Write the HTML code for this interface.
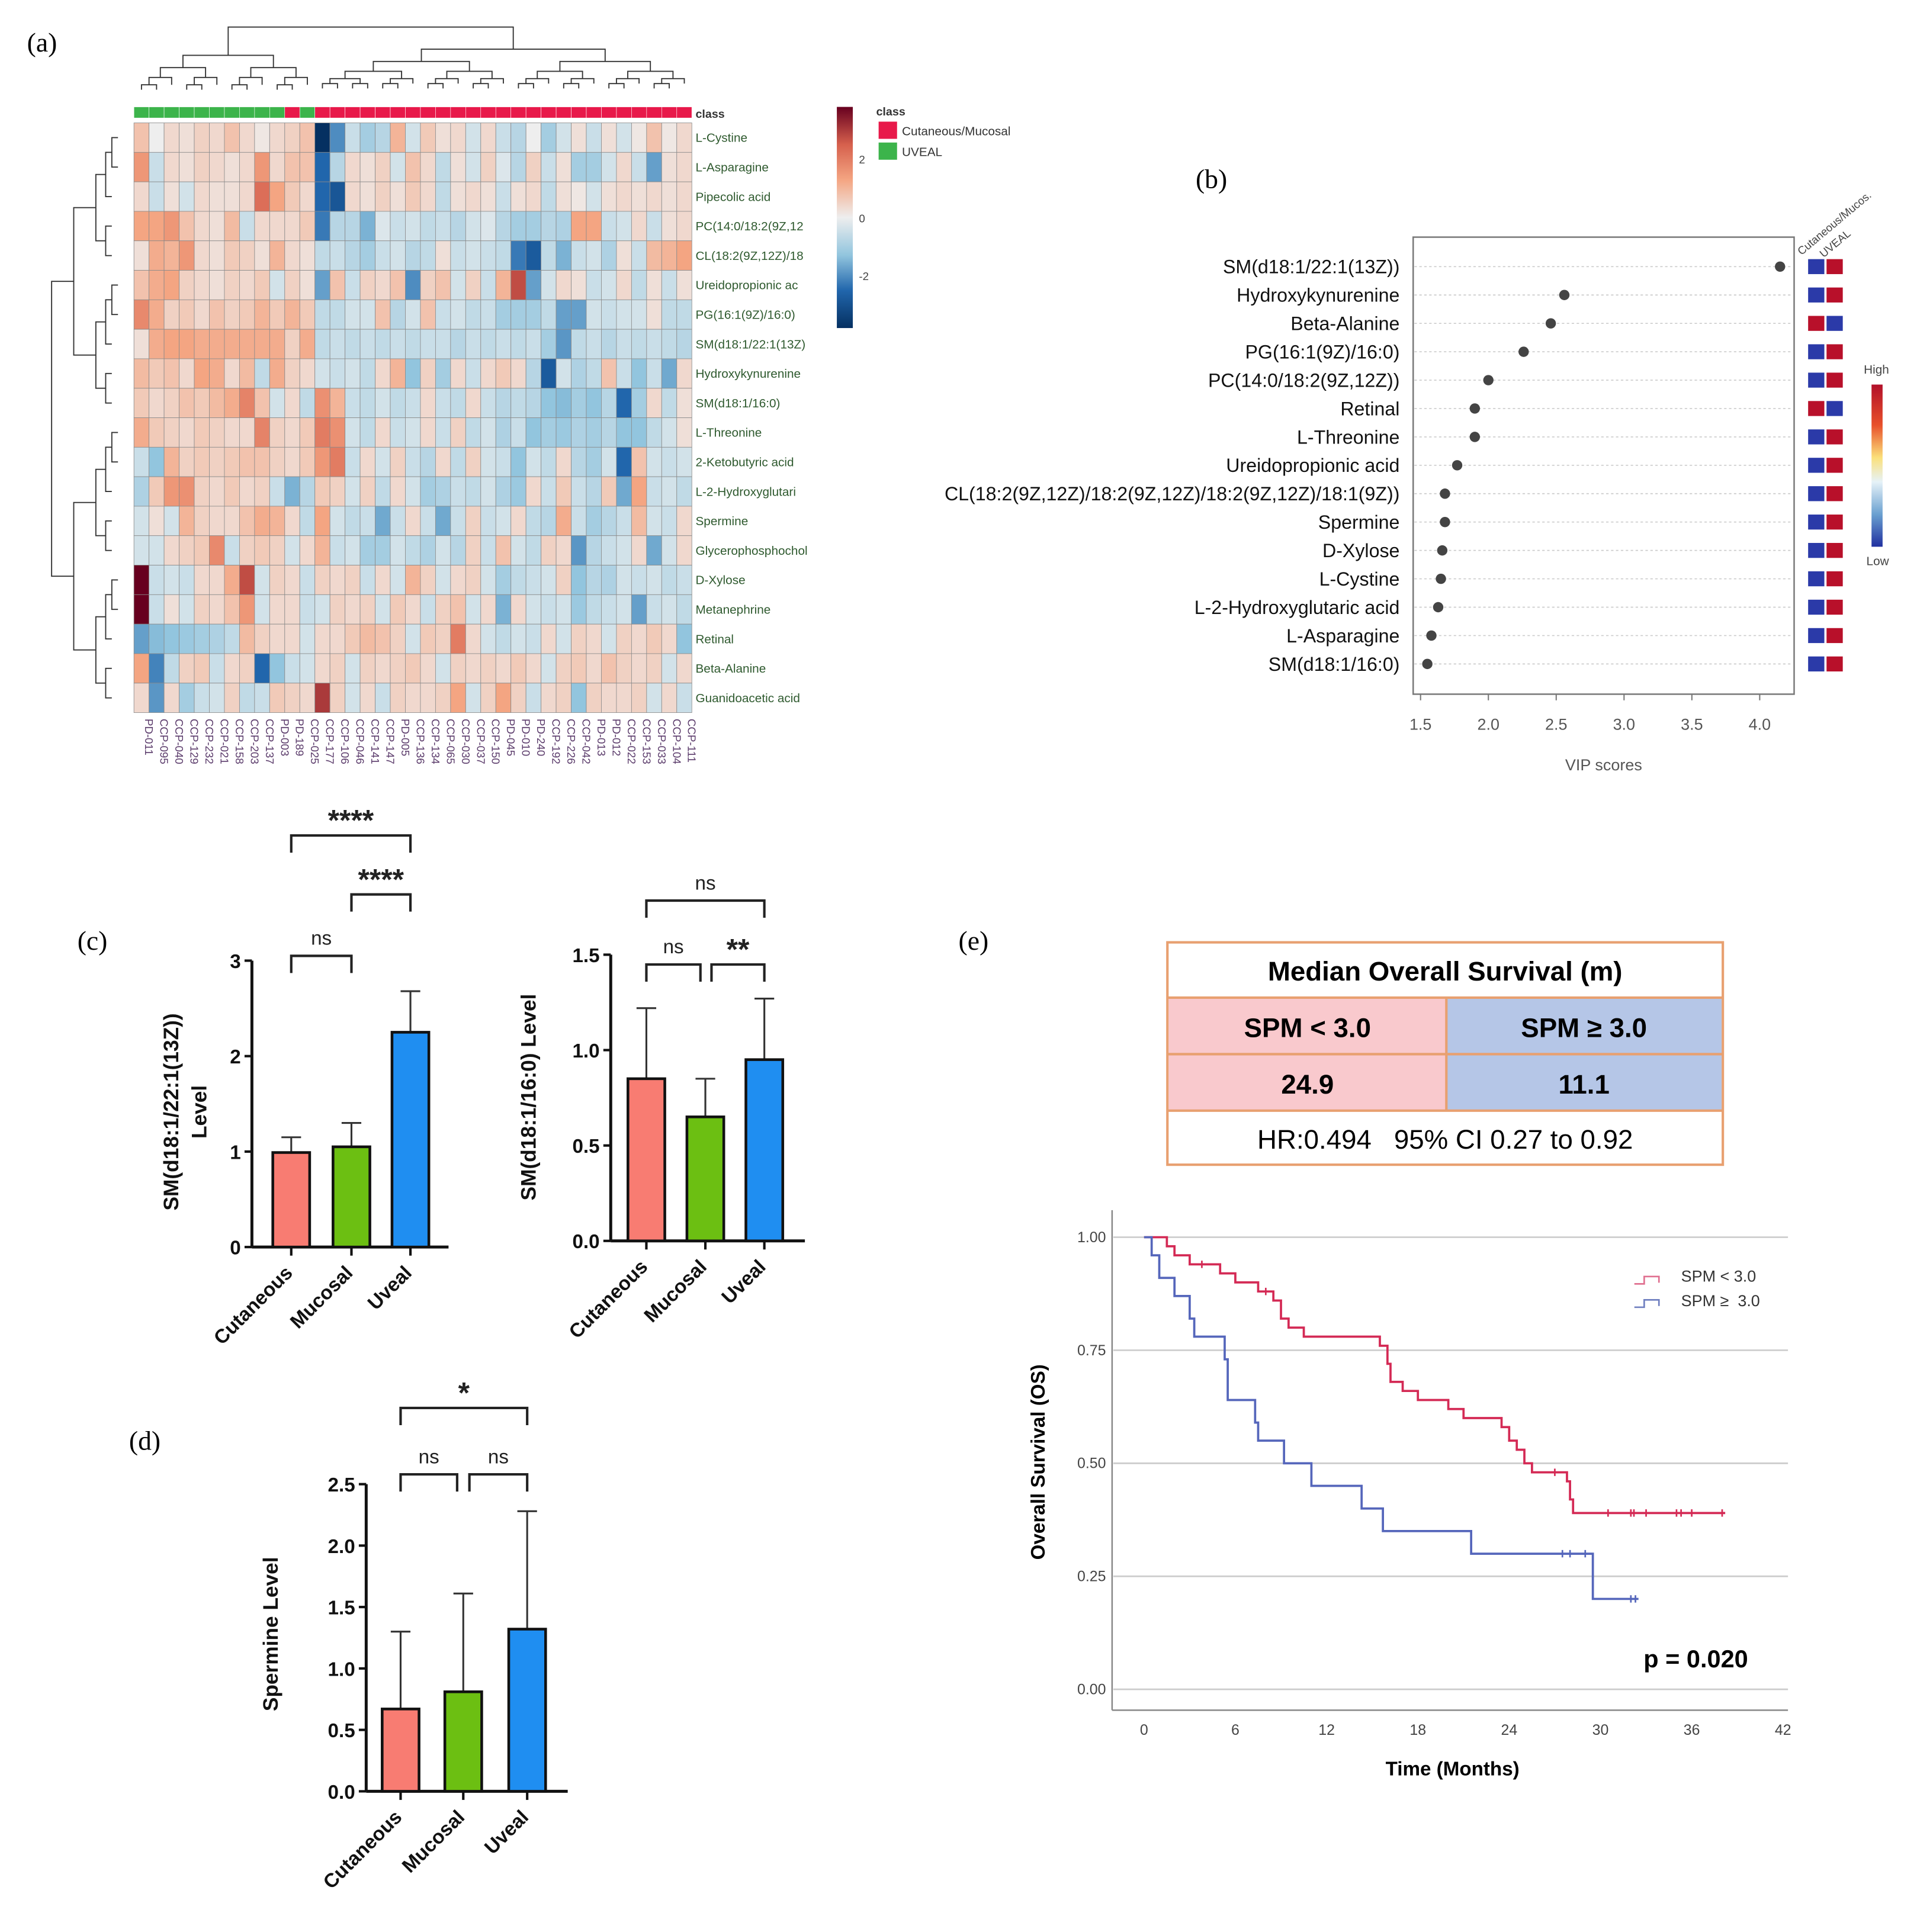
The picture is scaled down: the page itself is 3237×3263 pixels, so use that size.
<!DOCTYPE html>
<html><head><meta charset="utf-8">
<style>
html,body{margin:0;padding:0;background:#fff;}
svg{display:block;font-family:"Liberation Sans",sans-serif;}
.nar{font-family:"Liberation Sans Narrow","Liberation Sans",sans-serif;}
.pre{white-space:pre;}
</style></head>
<body>
<svg id="fig" xmlns="http://www.w3.org/2000/svg" width="3237" height="3263" viewBox="0 0 1560 1572.5">
<rect width="1560" height="1572.5" fill="#fff"/>
<g id="pa"></g>
<g id="pb"></g>
<g id="pc"></g>
<g id="pd"></g>
<g id="pe"></g>
</svg>
<script>
// ---------- DATA ----------
const hmRows = ["L-Cystine","L-Asparagine","Pipecolic acid","PC(14:0/18:2(9Z,12","CL(18:2(9Z,12Z)/18","Ureidopropionic ac","PG(16:1(9Z)/16:0)","SM(d18:1/22:1(13Z)","Hydroxykynurenine","SM(d18:1/16:0)","L-Threonine","2-Ketobutyric acid","L-2-Hydroxyglutari","Spermine","Glycerophosphochol","D-Xylose","Metanephrine","Retinal","Beta-Alanine","Guanidoacetic acid"];
const hmCols = ["PD-011","CCP-095","CCP-040","CCP-129","CCP-232","CCP-021","CCP-158","CCP-203","CCP-137","PD-003","PD-189","CCP-025","CCP-177","CCP-106","CCP-046","CCP-141","CCP-147","PD-005","CCP-136","CCP-134","CCP-065","CCP-030","CCP-037","CCP-150","PD-045","PD-010","PD-240","CCP-192","CCP-226","CCP-042","PD-013","PD-012","CCP-022","CCP-153","CCP-033","CCP-104","CCP-111"];
const hmClass = ["U","U","U","U","U","U","U","U","U","U","C","U","C","C","C","C","C","C","C","C","C","C","C","C","C","C","C","C","C","C","C","C","C","C","C","C","C"];
const hmValues = [
[0.6,0,0.3,0.2,0.4,0.3,0.6,0.3,0.1,0.3,0.4,0.6,-3,-1.6,-0.4,-0.8,-0.6,0.8,-0.3,0.5,0.2,0.3,-0.3,0.3,-0.4,-0.6,0,-0.8,-0.3,0.2,-0.4,0.2,-0.3,0.1,0.6,0.1,0.3],
[1.2,-0.4,0.3,0.2,0.4,0.3,0.2,0.3,1.2,0.3,0.6,0.6,-2,-0.6,0.3,0.2,0.4,-0.3,0.6,0.3,-0.5,0.2,-0.3,0.4,-0.2,-0.6,0.4,-0.4,0.2,-0.8,-0.8,-0.3,0.3,-0.4,-1.4,0.2,0.3],
[0.3,-0.4,0.2,-0.3,0.3,0.2,0.2,0.3,1.8,1,0.5,0.3,-2,-2.3,0.3,0.2,0.4,0.2,0.5,0.3,-0.5,0.2,0.3,0.2,-0.4,0.2,0.3,-0.5,0.2,0.1,-0.3,0.2,0.3,0.2,0.3,0.2,0.3],
[1,1,1.2,0.6,0.3,0.2,0.7,-0.4,0.3,0.3,0.3,0.5,-1.8,-0.6,-0.6,-1.2,-0.2,-0.4,-0.3,-0.5,-0.4,-0.6,-0.3,-0.2,-0.6,-0.8,-0.8,-0.6,-0.7,1,1,-0.4,-0.3,0.3,-0.4,0.2,0.3],
[0.2,0.9,0.8,1.2,0.3,0.2,0.5,0.4,0.2,0.8,0.3,0.2,-0.5,-0.4,-0.6,-0.8,-0.4,-0.3,-0.6,-0.5,0.2,-0.4,-0.3,-0.4,-0.5,-1.8,-2.2,-0.5,-1.2,-0.4,-0.3,-0.7,0.2,-0.4,0.7,0.8,1],
[0.6,0.9,1,0.4,0.3,0.2,0.4,0.3,0.5,-0.3,0.4,0.2,-1.4,0.6,-0.4,0.4,0.3,0.6,-1.6,0.4,0.6,-0.3,0.4,-0.4,0.8,2.2,-1.4,-0.3,0.3,0.2,-0.4,-0.3,0.3,-0.5,0.2,-0.4,0.2],
[1.4,0.9,0.4,0.5,0.3,0.6,0.4,0.5,0.8,0.5,0.8,0.5,-0.5,-0.5,-0.3,-0.3,0.6,-0.6,-0.3,0.6,-0.4,-0.3,-0.5,-0.4,-0.8,-0.8,-0.8,-0.5,-1.4,-1.4,-0.3,-0.4,-0.3,-0.3,0.2,-0.5,-0.5],
[0.2,0.9,1,1,0.9,0.9,0.9,0.9,0.9,0.9,0.4,0.9,-0.5,-0.4,-0.5,-0.4,-0.5,-0.4,-0.5,-0.4,-0.4,-0.6,-0.4,-0.5,-0.4,-0.5,-0.4,-0.8,-1.5,-0.5,-0.4,-0.6,-0.4,-0.5,-0.4,-0.5,-0.6],
[0.7,0.5,0.6,0.3,1,0.9,0.3,0.7,-0.5,0.9,0.4,0.3,-0.3,-0.4,-0.3,-0.5,0.3,0.8,-1,0.4,-0.8,0.3,-0.4,0.3,0.5,0.3,-0.6,-2.2,-0.3,-0.7,-0.5,0.6,-0.4,-1,-0.4,-1.3,0.3],
[0.5,0.3,0.4,0.6,0.5,0.7,0.9,1.5,0.6,-0.3,0.3,-0.5,1.3,0.8,-0.4,-0.5,-0.3,-0.5,-0.4,0.3,-0.4,-0.5,0.3,-0.4,-0.6,-0.5,-0.6,-1,-1.1,-0.8,-1,-0.6,-2,-0.8,0.3,-0.5,0.2],
[0.9,0.5,0.4,0.3,0.5,0.4,0.3,0.3,1.5,0.4,0.3,0.5,1.6,1.3,-0.3,-0.5,0.3,-0.4,-0.3,0.3,-0.4,0.4,-0.5,-0.3,-0.7,-0.4,-1,-0.8,-0.9,-0.7,-0.8,-0.6,-1,-1,-0.5,-0.3,0.2],
[-0.4,-1,0.8,0.4,0.5,0.4,0.5,0.6,0.6,0.4,0.3,0.5,1.2,1.6,-0.4,0.3,-0.3,0.4,-0.4,-0.6,0.3,-0.5,0.4,-0.3,-0.4,-1,-0.3,-0.5,0.3,-0.6,-0.8,-0.3,-2,0.6,-0.3,-0.4,-0.3],
[-0.7,0.5,1.2,1.3,0.4,0.3,0.5,0.3,0.4,-0.4,-1.2,-0.6,0.5,0.4,-0.3,0.4,-0.5,0.3,-0.3,-0.8,-0.7,-0.4,-0.5,-0.3,-0.7,-0.9,0.3,-0.4,0.5,-0.4,-0.6,0.5,-1.3,1,-0.4,-0.3,-0.5],
[-0.3,0.2,-0.3,0.8,0.4,0.3,0.3,0.6,0.9,0.8,0.3,-0.5,1,-0.3,-0.5,-0.4,-1.3,-0.4,0.3,-0.4,-1.3,-0.4,0.4,-0.4,-0.3,0.3,-0.5,-0.6,0.9,-0.4,-0.8,-0.6,-0.4,0.7,-0.3,-0.4,0.3],
[-0.3,-0.3,0.3,0.4,0.5,1.4,-0.4,0.4,0.5,0.4,-0.3,0.3,0.8,-0.4,-0.3,-0.8,-0.8,-0.3,-0.5,-0.7,-0.3,-0.6,0.4,-0.4,0.6,-0.3,-0.5,0.4,0.3,-1.5,-0.6,-0.4,-0.3,0.3,-1.3,-0.3,0.3],
[3,-0.4,-0.3,-0.4,0.3,0.3,0.9,2.2,-0.3,0.4,0.3,-0.4,0.4,0.3,0.4,-0.4,0.3,-0.3,0.8,0.4,-0.3,0.3,0.4,-0.3,-0.8,-0.5,-0.4,-0.3,0.4,-1,-0.6,-0.7,-0.3,-0.4,-0.3,-0.5,-0.4],
[3,-0.4,0.2,-0.3,0.4,0.3,0.6,1.2,-0.3,0.3,0.3,-0.4,-0.3,0.4,0.3,0.4,-0.3,0.5,0.3,-0.4,0.4,0.6,-0.3,0.3,-1.2,0.3,-0.3,-0.4,-0.3,-0.9,-0.5,-0.4,-0.3,-1.4,-0.4,-0.3,-0.5],
[-1.4,-1.1,-1,-0.9,-0.8,-0.7,-0.5,0.7,0.4,0.3,0.3,-0.3,0.3,0.3,0.5,0.7,0.6,0.4,-0.3,0.5,0.4,1.6,0.3,-0.3,-0.5,-0.3,-0.4,0.3,-0.3,0.4,0.3,-0.3,0.4,0.3,0.5,0.3,-1],
[1,-1.7,-0.5,0.4,0.5,-0.4,0.3,0.4,-2,-1,-0.4,-0.3,0.3,0.4,-0.3,0.4,0.3,0.4,0.5,0.3,-0.3,0.4,0.3,0.4,0.3,0.5,0.3,-0.3,0.4,0.5,0.3,0.6,0.4,0.3,0.4,-0.3,0.3],
[0.3,-1.5,0.3,-0.8,-0.4,-0.3,0.4,-0.5,-0.4,0.5,0.4,0.3,2.4,0.4,-0.3,0.3,-0.4,0.4,0.3,0.3,0.4,1,-0.3,0.4,1,0.4,-0.4,0.3,0.4,-1,0.4,0.3,0.3,0.4,-0.3,0.3,-0.4]];

const vipNames = ["SM(d18:1/22:1(13Z))","Hydroxykynurenine","Beta-Alanine","PG(16:1(9Z)/16:0)","PC(14:0/18:2(9Z,12Z))","Retinal","L-Threonine","Ureidopropionic acid","CL(18:2(9Z,12Z)/18:2(9Z,12Z)/18:2(9Z,12Z)/18:1(9Z))","Spermine","D-Xylose","L-Cystine","L-2-Hydroxyglutaric acid","L-Asparagine","SM(d18:1/16:0)"];
const vipScores = [4.15,2.56,2.46,2.26,2.0,1.9,1.9,1.77,1.68,1.68,1.66,1.65,1.63,1.58,1.55];
const vipHighCut = [0,0,1,0,0,1,0,0,0,0,0,0,0,0,0];
const vipTicks = [1.5,2.0,2.5,3.0,3.5,4.0];

const groups = ["Cutaneous","Mucosal","Uveal"];
const c1Means = [0.99,1.05,2.25], c1Err = [1.15,1.30,2.68], c1Ticks = [0,1,2,3];
const c2Means = [0.85,0.65,0.95], c2Err = [1.22,0.85,1.27], c2Ticks = [0,0.5,1.0,1.5];
const dMeans = [0.67,0.81,1.32], dErr = [1.30,1.61,2.28], dTicks = [0,0.5,1.0,1.5,2.0,2.5];

const kmLowT = [0,1.5,2,3,5,6,7.5,8.5,9,9.5,10.5,15.5,16,16.2,17,18,20,21,23.5,24,24.5,25,25.5,27.8,28,28.2,38.2];
const kmLowS = [1,0.98,0.96,0.94,0.92,0.90,0.88,0.86,0.82,0.80,0.78,0.76,0.72,0.68,0.66,0.64,0.62,0.60,0.58,0.55,0.53,0.50,0.48,0.46,0.42,0.39,0.39];
const kmLowCens = [3.8,8,27,30.5,32,32.2,33,35,35.3,36,38];
const kmHighT = [0,0.5,1,2,3,3.3,5.3,5.5,7.3,7.5,9.2,11,14.3,15.7,21.5,29.5,32.5];
const kmHighS = [1,0.96,0.91,0.87,0.82,0.78,0.73,0.64,0.59,0.55,0.50,0.45,0.40,0.35,0.30,0.20,0.20];
const kmHighCens = [27.5,28,29,32,32.3];
const kmXTicks = [0,6,12,18,24,30,36,42];
const kmYTicks = [0,0.25,0.5,0.75,1.0];

// ---------- HELPERS ----------
const NS="http://www.w3.org/2000/svg";
function mk(parent,tag,attrs,text){const e=document.createElementNS(NS,tag);for(const k in attrs)e.setAttribute(k,attrs[k]);if(text!==undefined)e.textContent=text;parent.appendChild(e);return e;}
function lerp(a,b,t){return a+(b-a)*t;}
function mix(c1,c2,t){return 'rgb('+[0,1,2].map(i=>Math.round(lerp(c1[i],c2[i],t))).join(',')+')';}
function hmColor(v){
  const stops=[[-3,[5,48,97]],[-2,[33,102,172]],[-1,[146,197,222]],[0,[238,238,238]],[1,[244,165,130]],[2,[214,96,77]],[3,[103,0,31]]];
  v=Math.max(-3,Math.min(3,v));
  for(let i=0;i<stops.length-1;i++){if(v<=stops[i+1][0]){const t=(v-stops[i][0])/(stops[i+1][0]-stops[i][0]);return mix(stops[i][1],stops[i+1][1],t);}}
  return 'rgb(103,0,31)';
}

// ---------- PANEL A ----------
(function(){
const g=document.getElementById('pa');
let t=mk(g,'text',{x:22,y:42,'font-family':'Liberation Serif,serif','font-size':22});t.textContent='(a)';

const x0=109,y0=100,cw=454/hmCols.length,rh=24;
hmClass.forEach((c,j)=>{const r=mk(g,'rect',{x:x0+j*cw,y:87,width:cw,height:9,fill:c==='U'?'#3cb44b':'#e8194a',stroke:'#fff','stroke-width':0.3});
});
mk(g,'text',{x:566,y:96,'font-size':9.5,'font-weight':'bold',fill:'#333'},'class');
hmValues.forEach((row,i)=>row.forEach((v,j)=>{const r=mk(g,'rect',{x:x0+j*cw,y:y0+i*rh,width:cw,height:rh,fill:hmColor(v),stroke:'#8a8a8a','stroke-width':0.4});
}));
hmRows.forEach((n,i)=>{const e=mk(g,'text',{x:566,y:y0+i*rh+rh/2+3.5,'font-size':10,fill:'#2f5a2f'},n);
});
hmCols.forEach((n,j)=>{const cx=x0+j*cw+cw/2;const e=mk(g,'text',{x:cx+3,y:585,'font-size':9,fill:'#5a3a6a',transform:'rotate(90 '+(cx+3)+' 585)'},n);
});
function colTree(a,b,top,depth){ if(b-a<1){return x0+(a+0.5)*cw;}
  const m=Math.floor((a+b)/2);const bot=top+Math.max(4,12-depth*2);
  const l=colTree(a,m,bot,depth+1), r=colTree(m+1,b,bot,depth+1);
  const lb=Math.min(bot,86);
  mk(g,'path',{d:`M${l} ${lb} V${top} H${r} V${lb}`,fill:'none',stroke:'#333','stroke-width':0.9});
  return (l+r)/2;}
const cl=colTree(0,11,45,1), cr=colTree(12,hmCols.length-1,40,1);
mk(g,'path',{d:`M${cl} 45 V22 H${cr} V40`,fill:'none',stroke:'#333','stroke-width':0.9});
function rowTree(a,b,left,depth){ if(b-a<1){return y0+(a+0.5)*rh;}
  const m=Math.floor((a+b)/2);const nl=left+(depth<2?18:Math.max(5,14-depth*3));
  const u=rowTree(a,m,nl,depth+1), d=rowTree(m+1,b,nl,depth+1);
  const ex=Math.min(nl,108);
  mk(g,'path',{d:`M${ex} ${u} H${left} V${d} H${ex}`,fill:'none',stroke:'#333','stroke-width':0.9});
  return (u+d)/2;}
rowTree(0,19,42,0);
const lg=mk(g,'defs',{});const gr=mk(lg,'linearGradient',{id:'hmg',x1:0,y1:0,x2:0,y2:1});
[[0,'#67001f'],[0.17,'#d6604d'],[0.33,'#f4a582'],[0.5,'#eeeeee'],[0.67,'#92c5de'],[0.83,'#2166ac'],[1,'#053061']].forEach(s=>mk(gr,'stop',{offset:s[0],'stop-color':s[1]}));
const cb=mk(g,'rect',{x:681,y:87,width:13,height:180,fill:'url(#hmg)'});
[['2',133],['0',181],['-2',228]].forEach(s=>mk(g,'text',{x:699,y:s[1],'font-size':9,fill:'#444'},s[0]));
mk(g,'text',{x:713,y:94,'font-size':9.5,'font-weight':'bold',fill:'#333'},'class');
mk(g,'rect',{x:715,y:99,width:15,height:14,fill:'#e8194a'});
mk(g,'rect',{x:715,y:116,width:15,height:14,fill:'#3cb44b'});
mk(g,'text',{x:734,y:110,'font-size':10,fill:'#333'},'Cutaneous/Mucosal');
mk(g,'text',{x:734,y:127,'font-size':10,fill:'#333'},'UVEAL');
})();

// ---------- PANEL B ----------
(function(){
const g=document.getElementById('pb');
let t=mk(g,'text',{x:973,y:153,'font-family':'Liberation Serif,serif','font-size':22},'(b)');

const X=v=>1156+(v-1.5)*110.4;const Y=i=>217+i*23.1;
const box=mk(g,'rect',{x:1150,y:193,width:310,height:372,fill:'none',stroke:'#777','stroke-width':1.2});

vipTicks.forEach(v=>{mk(g,'line',{x1:X(v),y1:565,x2:X(v),y2:570,stroke:'#777'});
 const e=mk(g,'text',{x:X(v),y:594,'font-size':13,'text-anchor':'middle',fill:'#555',class:'nar'},v.toFixed(1));
 });
mk(g,'text',{x:1305,y:627,'font-size':13,'text-anchor':'middle',fill:'#555',class:'nar'},'VIP scores');
vipNames.forEach((n,i)=>{
 mk(g,'line',{x1:1151,y1:Y(i),x2:1459,y2:Y(i),stroke:'#ccc','stroke-dasharray':'2,2','stroke-width':0.8});
 const e=mk(g,'text',{x:1139,y:Y(i)+5.5,'font-size':15.5,'text-anchor':'end',fill:'#111',class:'nar'},n);
 
 const d=mk(g,'circle',{cx:X(vipScores[i]),cy:Y(i),r:4.2,fill:'#444'});
 
 const hi=vipHighCut[i];
 const a=mk(g,'rect',{x:1471,y:Y(i)-6.5,width:14,height:13,fill:hi?'#b8102a':'#2b3aa8',stroke:'#fff','stroke-width':0.8});
 
 const b=mk(g,'rect',{x:1486,y:Y(i)-6.5,width:14,height:13,fill:hi?'#2b3aa8':'#b8102a',stroke:'#fff','stroke-width':0.8});
 
});
mk(g,'text',{x:1466,y:208,'font-size':9,fill:'#444',transform:'rotate(-40 1466 208)'},'Cutaneous/Mucos.');
mk(g,'text',{x:1484,y:210,'font-size':9,fill:'#444',transform:'rotate(-40 1484 210)'},'UVEAL');
const df=mk(g,'defs',{});const gr=mk(df,'linearGradient',{id:'vg',x1:0,y1:0,x2:0,y2:1});
[[0,'#b2102a'],[0.25,'#e8502a'],[0.45,'#fbe07a'],[0.6,'#e6f2f8'],[0.8,'#6aa0d0'],[1,'#2030a0']].forEach(s=>mk(gr,'stop',{offset:s[0],'stop-color':s[1]}));
mk(g,'rect',{x:1523,y:313,width:9,height:132,fill:'url(#vg)'});
mk(g,'text',{x:1527,y:304,'font-size':10,'text-anchor':'middle',fill:'#444',class:'nar'},'High');
mk(g,'text',{x:1528,y:460,'font-size':10,'text-anchor':'middle',fill:'#444',class:'nar'},'Low');
})();

// ---------- BAR CHART ----------
const barCols=['#f87c72','#6cbf12','#1f8ef1'];
function barChart(g,o){
 const Y=v=>o.y0-v*o.unit;
 mk(g,'line',{x1:o.ax,y1:Y(o.ticks[o.ticks.length-1]),x2:o.ax,y2:o.y0,stroke:'#111','stroke-width':2.4});
 mk(g,'line',{x1:o.ax,y1:o.y0,x2:o.xEnd,y2:o.y0,stroke:'#111','stroke-width':2.4});
 o.ticks.forEach(v=>{mk(g,'line',{x1:o.ax-6,y1:Y(v),x2:o.ax,y2:Y(v),stroke:'#111','stroke-width':2});
  const e=mk(g,'text',{x:o.ax-9,y:Y(v)+6,'font-size':16,'font-weight':'bold','text-anchor':'end',fill:'#111'},o.fmt(v));
  });
 o.means.forEach((m,i)=>{const cx=o.cx[i];
  mk(g,'line',{x1:cx,y1:Y(m),x2:cx,y2:Y(o.err[i]),stroke:'#333','stroke-width':1.5});
  mk(g,'line',{x1:cx-8,y1:Y(o.err[i]),x2:cx+8,y2:Y(o.err[i]),stroke:'#333','stroke-width':1.5});
  const b=mk(g,'rect',{x:cx-15,y:Y(m),width:30,height:m*o.unit,fill:barCols[i],stroke:'#111','stroke-width':2.2});
  
  mk(g,'line',{x1:cx,y1:o.y0,x2:cx,y2:o.y0+7,stroke:'#111','stroke-width':2});
  const lx=cx+2,ly=o.y0+22;
  const e=mk(g,'text',{x:lx,y:ly,'font-size':16,'font-weight':'bold','text-anchor':'end',fill:'#111',transform:`rotate(-45 ${lx} ${ly})`},groups[i]);
  });
 o.titles.forEach(tt=>{const e=mk(g,'text',{x:tt[1],y:o.tcy,'font-size':17,'font-weight':'bold','text-anchor':'middle',fill:'#111',transform:`rotate(-90 ${tt[1]} ${o.tcy})`},tt[0]);
  });
 o.brackets.forEach(br=>{const xa=o.cx[br[0]]+(br[4]||0),xb=o.cx[br[1]]+(br[5]||0),y=br[2];
  mk(g,'path',{d:`M${xa} ${y+14} V${y} H${xb} V${y+14}`,fill:'none',stroke:'#222','stroke-width':2});
  const star=br[3].indexOf('*')>=0;
  const e=mk(g,'text',{x:(xa+xb)/2,y:star?y-4:y-9,'font-size':star?24:16,'font-weight':star?'bold':'normal','text-anchor':'middle',fill:'#222'},br[3]);
  });
}
(function(){
const g=document.getElementById('pc');
let t=mk(g,'text',{x:63,y:773,'font-family':'Liberation Serif,serif','font-size':22},'(c)');

const g1=mk(g,'g',{});
barChart(g1,{ax:205,y0:1015,unit:77.7,xEnd:365,ticks:c1Ticks,fmt:v=>String(v),means:c1Means,err:c1Err,cx:[237,286,334],
 titles:[['SM(d18:1/22:1(13Z))',145],['Level',168]],tcy:905,
 brackets:[[0,1,778,'ns'],[1,2,728,'****'],[0,2,680,'****']]});
const g2=mk(g,'g',{});
barChart(g2,{ax:497,y0:1010,unit:155.3,xEnd:655,ticks:c2Ticks,fmt:v=>v.toFixed(1),means:c2Means,err:c2Err,cx:[526,574,622],
 titles:[['SM(d18:1/16:0) Level',436]],tcy:893,
 brackets:[[0,1,785,'ns',0,-4],[1,2,785,'**',5,0],[0,2,733,'ns']]});
})();
(function(){
const g=document.getElementById('pd');
let t=mk(g,'text',{x:105,y:1180,'font-family':'Liberation Serif,serif','font-size':22},'(d)');

barChart(g,{ax:298,y0:1458,unit:100,xEnd:462,ticks:dTicks,fmt:v=>v.toFixed(1),means:dMeans,err:dErr,cx:[326,377,429],
 titles:[['Spermine Level',226]],tcy:1330,
 brackets:[[0,1,1200,'ns',0,-5],[1,2,1200,'ns',5,0],[0,2,1146,'*']]});
})();

// ---------- PANEL E ----------
(function(){
const g=document.getElementById('pe');
let t=mk(g,'text',{x:780,y:773,'font-family':'Liberation Serif,serif','font-size':22},'(e)');

const tb=mk(g,'g',{});
mk(tb,'rect',{x:950,y:767,width:452,height:181,fill:'#fff',stroke:'#e8a070','stroke-width':2});
mk(tb,'rect',{x:951,y:812,width:226,height:92,fill:'#f9c9cd'});
mk(tb,'rect',{x:1177,y:812,width:224,height:92,fill:'#b5c6e7'});
[812,858,904].forEach(y=>mk(tb,'line',{x1:950,y1:y,x2:1402,y2:y,stroke:'#e8a070','stroke-width':2}));
mk(tb,'line',{x1:1177,y1:812,x2:1177,y2:904,stroke:'#e8a070','stroke-width':2});
mk(tb,'text',{x:1176,y:798,'font-size':22,'font-weight':'bold','text-anchor':'middle'},'Median Overall Survival (m)');
mk(tb,'text',{x:1064,y:844,'font-size':22,'font-weight':'bold','text-anchor':'middle'},'SPM < 3.0');
mk(tb,'text',{x:1289,y:844,'font-size':22,'font-weight':'bold','text-anchor':'middle'},'SPM ≥ 3.0');
mk(tb,'text',{x:1064,y:890,'font-size':22,'font-weight':'bold','text-anchor':'middle'},'24.9');
mk(tb,'text',{x:1289,y:890,'font-size':22,'font-weight':'bold','text-anchor':'middle'},'11.1');
mk(tb,'text',{x:1176,y:935,'font-size':22,'text-anchor':'middle',class:'pre'},'HR:0.494   95% CI 0.27 to 0.92');
const X=m=>931+m*12.38, Y=s=>1375-s*368;
mk(g,'line',{x1:905,y1:985,x2:905,y2:1392,stroke:'#888','stroke-width':1.2});
mk(g,'line',{x1:905,y1:1392,x2:1455,y2:1392,stroke:'#888','stroke-width':1.2});
kmYTicks.forEach(v=>{mk(g,'line',{x1:906,y1:Y(v),x2:1455,y2:Y(v),stroke:'#ccc','stroke-width':1.3});
 const e=mk(g,'text',{x:900,y:Y(v)+4,'font-size':12,'text-anchor':'end',fill:'#444'},v.toFixed(2));
 });
kmXTicks.forEach(v=>{const e=mk(g,'text',{x:X(v),y:1412,'font-size':12,'text-anchor':'middle',fill:'#444'},String(v));
 });
mk(g,'text',{x:1182,y:1445,'font-size':16,'font-weight':'bold','text-anchor':'middle'},'Time (Months)');
mk(g,'text',{x:850,y:1190,'font-size':16,'font-weight':'bold','text-anchor':'middle',transform:'rotate(-90 850 1190)'},'Overall Survival (OS)');
function km(T,S,C,col,name){let d=`M${X(T[0])} ${Y(S[0])}`;
 for(let i=1;i<T.length;i++){d+=` H${X(T[i])} V${Y(S[i])}`;}
 const p=mk(g,'path',{d:d,fill:'none',stroke:col,'stroke-width':1.8});
 
 C.forEach(c=>{let s=S[0];for(let i=0;i<T.length;i++){if(T[i]<=c)s=S[i];}
  mk(g,'line',{x1:X(c),y1:Y(s)-3,x2:X(c),y2:Y(s)+3,stroke:col,'stroke-width':1.3});});}
km(kmLowT,kmLowS,kmLowCens,'#d42a55','km-curve-spm-low');
km(kmHighT,kmHighS,kmHighCens,'#5566bb','km-curve-spm-high');
mk(g,'path',{d:'M1330 1045 h8 v-6 h12 v5',fill:'none',stroke:'#e07090','stroke-width':1.3});
mk(g,'path',{d:'M1330 1064 h8 v-6 h12 v5',fill:'none',stroke:'#7080c0','stroke-width':1.3});
mk(g,'text',{x:1368,y:1043,'font-size':13,fill:'#333'},'SPM < 3.0');
mk(g,'text',{x:1368,y:1063,'font-size':13,fill:'#333',class:'pre'},'SPM ≥  3.0');
mk(g,'text',{x:1380,y:1357,'font-size':20,'font-weight':'bold','text-anchor':'middle'},'p = 0.020');
})();
</script>
</body></html>
